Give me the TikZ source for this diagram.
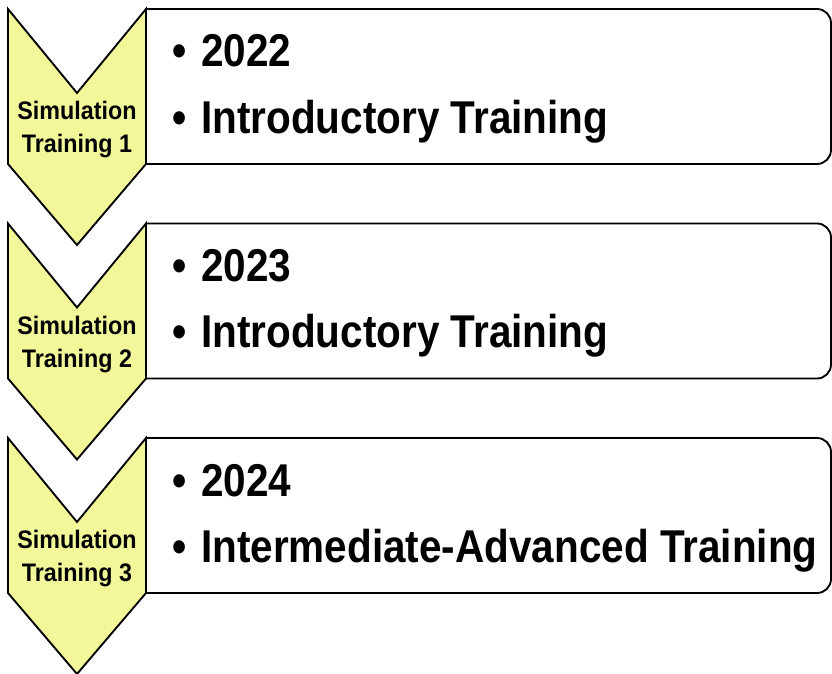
\documentclass[tikz,border=0pt]{standalone}
\usepackage{fontspec}
\setmainfont{Liberation Sans}
\newfontfamily\itemfont[FakeStretch=0.88]{Liberation Sans}
\newfontfamily\chevfont[FakeStretch=0.92]{Liberation Sans}
\definecolor{chevfill}{RGB}{242,248,153}
\begin{document}
\begin{tikzpicture}[x=0.75pt,y=-0.75pt,
  boxline/.style={draw=black,line width=1.4pt,fill=white,line join=round},
  chevron/.style={draw=black,line width=1.4pt,fill=chevfill,line join=miter},
  itemtext/.style={anchor=base west,inner sep=0pt,font=\itemfont\bfseries\fontsize{34.5}{40}\selectfont},
  chevtext/.style={align=center,inner sep=0pt,font=\chevfont\bfseries\fontsize{19}{24.75}\selectfont}]
\useasboundingbox (0,0) rectangle (832,674);
\foreach \k/\yy/\yr/\lbl in {1/9/2022/Introductory Training,2/223.5/2023/Introductory Training,3/438/2024/Intermediate-Advanced Training}{
  % rounded box
  \draw[boxline] (146,\yy) -- (817,\yy) arc[start angle=90,end angle=0,radius=10.5pt]
     -- (831,\yy+141) arc[start angle=0,end angle=-90,radius=10.5pt] -- (146,\yy+155) -- cycle;
  % chevron
  \draw[chevron] (8,\yy) -- (77,\yy+84) -- (146,\yy) -- (146,\yy+155) -- (77,\yy+236) -- (8,\yy+155) -- cycle;
  \node[chevtext] (chev\k) at (77,\yy+121) {Simulation\\Training \k};
  \node[itemtext] (ba\k) at (172,\yy+58) {•};
  \node[itemtext] (year\k) at (201,\yy+58) {\yr};
  \node[itemtext] (bb\k) at (172,\yy+124) {•};
  \node[itemtext] (level\k) at (201,\yy+124) {\lbl};
}
\end{tikzpicture}
\end{document}
